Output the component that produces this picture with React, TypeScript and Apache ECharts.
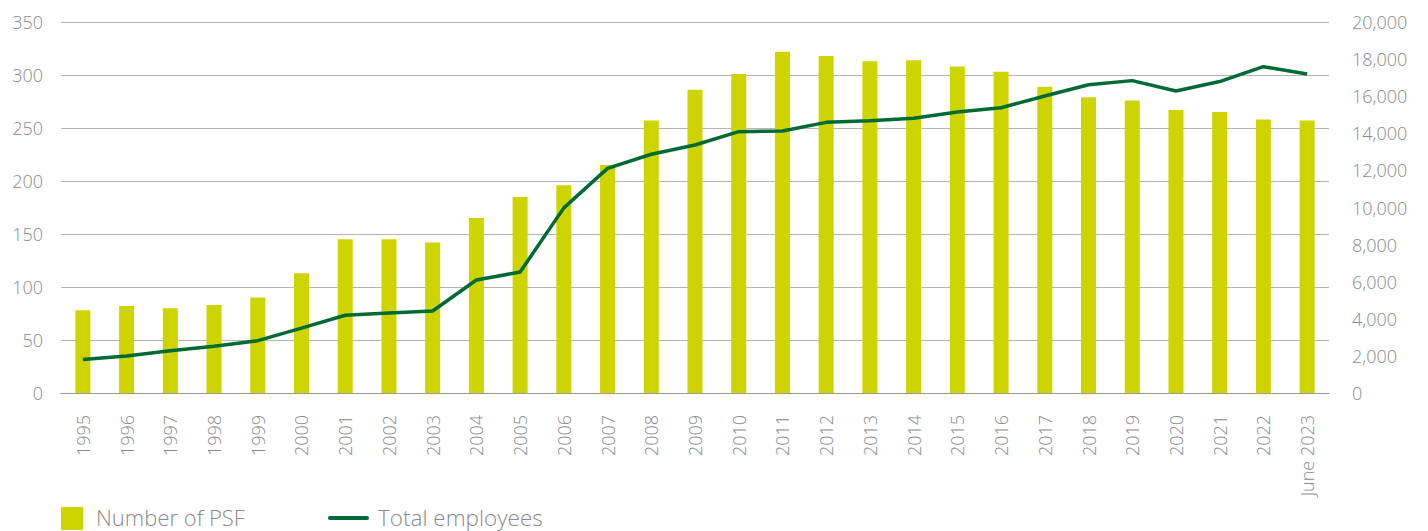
import React, { useEffect, useRef } from "react";
import * as echarts from "echarts";

const categories = [
  "1995", "1996", "1997", "1998", "1999", "2000", "2001", "2002", "2003", "2004",
  "2005", "2006", "2007", "2008", "2009", "2010", "2011", "2012", "2013", "2014",
  "2015", "2016", "2017", "2018", "2019", "2020", "2021", "2022", "June 2023",
];

const psfCounts = [
  78, 82, 80, 83, 90, 113, 145, 145, 142, 165,
  185, 196, 215, 257, 286, 301, 322, 318, 313, 314,
  308, 303, 289, 279, 276, 267, 265, 258, 257,
];

const totalEmployees = [
  1800, 2000, 2280, 2520, 2820, 3500, 4190, 4310, 4420, 6090,
  6520, 9980, 12110, 12870, 13370, 14090, 14120, 14590, 14680, 14810,
  15150, 15380, 16010, 16620, 16840, 16280, 16790, 17590, 17200,
];

const leftTicks = { min: 0, max: 350, interval: 50 };
const rightTicks = { min: 0, max: 20000, interval: 2000 };

const seriesNames = ["Number of PSF", "Total employees"];

const BAR_COLOR = "#cdd400";
const LINE_COLOR = "#006a35";
const TEXT_COLOR = "#8a8a8a";
const GRID_COLOR = "#b4b4b4";
const FONT = "'Open Sans', sans-serif";

export default function App() {
  const ref = useRef<HTMLDivElement>(null);

  useEffect(() => {
    if (!ref.current) return;
    const chart = echarts.init(ref.current, undefined, { renderer: "svg" });
    const labelStyle = {
      color: TEXT_COLOR,
      fontFamily: FONT,
      fontSize: 18,
      fontWeight: 300 as any,
    };
    chart.setOption({
      animation: false,
      grid: { left: 61, right: 99, top: 22, bottom: 138, containLabel: false },
      xAxis: {
        type: "category",
        data: categories,
        axisTick: { show: false },
        axisLine: { show: true, lineStyle: { color: "#999999", width: 1 } },
        axisLabel: { ...labelStyle, rotate: 90, margin: 22, interval: 0 },
      },
      yAxis: [
        {
          type: "value",
          min: leftTicks.min,
          max: leftTicks.max,
          interval: leftTicks.interval,
          axisLine: { show: false },
          axisTick: { show: false },
          splitLine: { lineStyle: { color: GRID_COLOR, width: 1 } },
          axisLabel: { ...labelStyle, margin: 18 },
        },
        {
          type: "value",
          min: rightTicks.min,
          max: rightTicks.max,
          interval: rightTicks.interval,
          axisLine: { show: false },
          axisTick: { show: false },
          splitLine: { show: false },
          axisLabel: {
            ...labelStyle,
            margin: 23,
            formatter: (v: number) => v.toLocaleString("en-US"),
          },
        },
      ],
      series: [
        {
          name: seriesNames[0],
          type: "bar",
          data: psfCounts,
          yAxisIndex: 0,
          barWidth: 15,
          itemStyle: { color: BAR_COLOR },
        },
        {
          name: seriesNames[1],
          type: "line",
          data: totalEmployees,
          yAxisIndex: 1,
          symbol: "none",
          lineStyle: { color: LINE_COLOR, width: 3.5 },
          itemStyle: { color: LINE_COLOR },
          z: 5,
        },
      ],
      graphic: [
        {
          type: "rect",
          shape: { x: 61, y: 507, width: 22, height: 23 },
          style: { fill: BAR_COLOR },
        },
        {
          type: "text",
          x: 96,
          y: 517,
          style: {
            text: seriesNames[0],
            fill: TEXT_COLOR,
            font: `300 22px ${FONT}`,
            verticalAlign: "middle",
          },
        },
        {
          type: "line",
          shape: { x1: 330, y1: 518, x2: 367, y2: 518 },
          style: { stroke: LINE_COLOR, lineWidth: 4, lineCap: "round" },
        },
        {
          type: "text",
          x: 378,
          y: 517,
          style: {
            text: seriesNames[1],
            fill: TEXT_COLOR,
            font: `300 22.5px ${FONT}`,
            verticalAlign: "middle",
          },
        },
      ],
    });
    return () => chart.dispose();
  }, []);

  return <div ref={ref} style={{ width: 1428, height: 531, position: "absolute", left: 0, top: 0 }} />;
}
